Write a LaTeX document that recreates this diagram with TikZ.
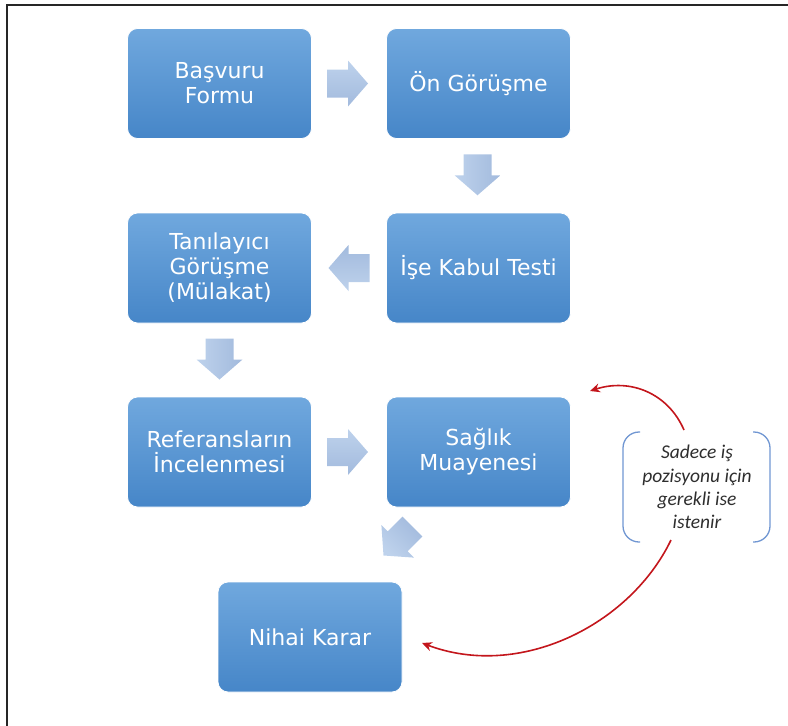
\documentclass[tikz,border=0pt]{standalone}
\usepackage{fontspec}
\setmainfont{DejaVu Sans}
\newfontfamily\notefont{Carlito}
\usetikzlibrary{arrows.meta,calc}

\definecolor{boxtop}{HTML}{70A8DE}
\definecolor{boxbot}{HTML}{4686C8}
\definecolor{arrtop}{HTML}{BED2EC}
\definecolor{arrbot}{HTML}{A2BADD}
\definecolor{notered}{HTML}{C3161C}
\definecolor{bracketblue}{HTML}{7096D2}
\definecolor{notetext}{HTML}{2E2E2E}

\tikzset{
  stagebox/.style={rectangle, rounded corners=10pt, minimum width=184pt,
    minimum height=110pt, top color=boxtop, bottom color=boxbot,
    draw=white, line width=0.8pt, text=white, align=center, inner sep=0pt,
    font=\fontsize{22}{25}\selectfont},
  arrowfill/.style={top color=arrtop, bottom color=arrbot, draw=none},
  flowarrow/.pic={
    \shade[arrowfill] (-20.5,-14) -- (0.5,-14) -- (0.5,-23) -- (20.5,0)
      -- (0.5,23) -- (0.5,14) -- (-20.5,14) -- cycle;
  },
  notecurve/.style={draw=notered, line width=1.6pt,
    -{Stealth[length=10pt,width=9pt]}},
  bracket/.style={draw=bracketblue, line width=1.3pt, rounded corners=16pt},
}

\begin{document}
\begin{tikzpicture}[x=1pt,y=-1pt]
\useasboundingbox (0,0) rectangle (788,726);

% page frame
\draw[line width=2pt, black!85] (7,726) -- (7,5) -- (788,5);

% stages
\node[stagebox] (basvuru) at (219.5,83.5) {Başvuru\\Formu};
\node[stagebox] (on)      at (478.5,83.5) {Ön Görüşme};
\node[stagebox] (tani)    at (219.5,268)  {Tanılayıcı\\Görüşme\\(Mülakat)};
\node[stagebox] (ise)     at (478.5,268)  {İşe Kabul Testi};
\node[stagebox] (ref)     at (219.5,452)  {Referansların\\İncelenmesi};
\node[stagebox] (saglik)  at (478.5,452)  {Sağlık\\Muayenesi};
\node[stagebox] (nihai)   at (310,637)    {Nihai Karar};

% block arrows between stages
\pic at ($(basvuru.east)!0.5!(on.west)+(-1.5,0)$) {flowarrow};
\pic[rotate=-90, arrowfill/.append style={shading angle=90}]
  at ($(on.south)!0.5!(ise.north)+(-1,-1)$) {flowarrow};
\pic[rotate=180, arrowfill/.append style={shading angle=180}]
  at ($(ise.west)!0.5!(tani.east)$) {flowarrow};
\pic[rotate=-90, arrowfill/.append style={shading angle=90}]
  at ($(tani.south)!0.5!(ref.north)+(0,-1)$) {flowarrow};
\pic at ($(ref.east)!0.5!(saglik.west)+(-1.5,0)$) {flowarrow};
\pic[rotate=225, arrowfill/.append style={shading angle=135}]
  at (398,541) {flowarrow};

% side note
\node[text=notetext, align=center, inner sep=0pt,
  font=\notefont\itshape\fontsize{19.5}{23.3}\selectfont]
  (note) at (697,487) {Sadece iş\\pozisyonu için\\gerekli ise\\istenir};
\draw[bracket] (640,432) -- (623,432) -- (623,542) -- (640,542);
\draw[bracket] (753,432) -- (770,432) -- (770,542) -- (753,542);

\coordinate (noteTop) at (684,430);
\coordinate (noteBot) at (671,540);
\coordinate (tipA) at (590,391);
\coordinate (tipB) at (422,643);
\draw[notecurve] (noteTop) .. controls (668,393) and (630,378) .. (tipA);
\draw[notecurve] (noteBot) .. controls (630,625) and (520,680) .. (tipB);
\end{tikzpicture}
\end{document}
